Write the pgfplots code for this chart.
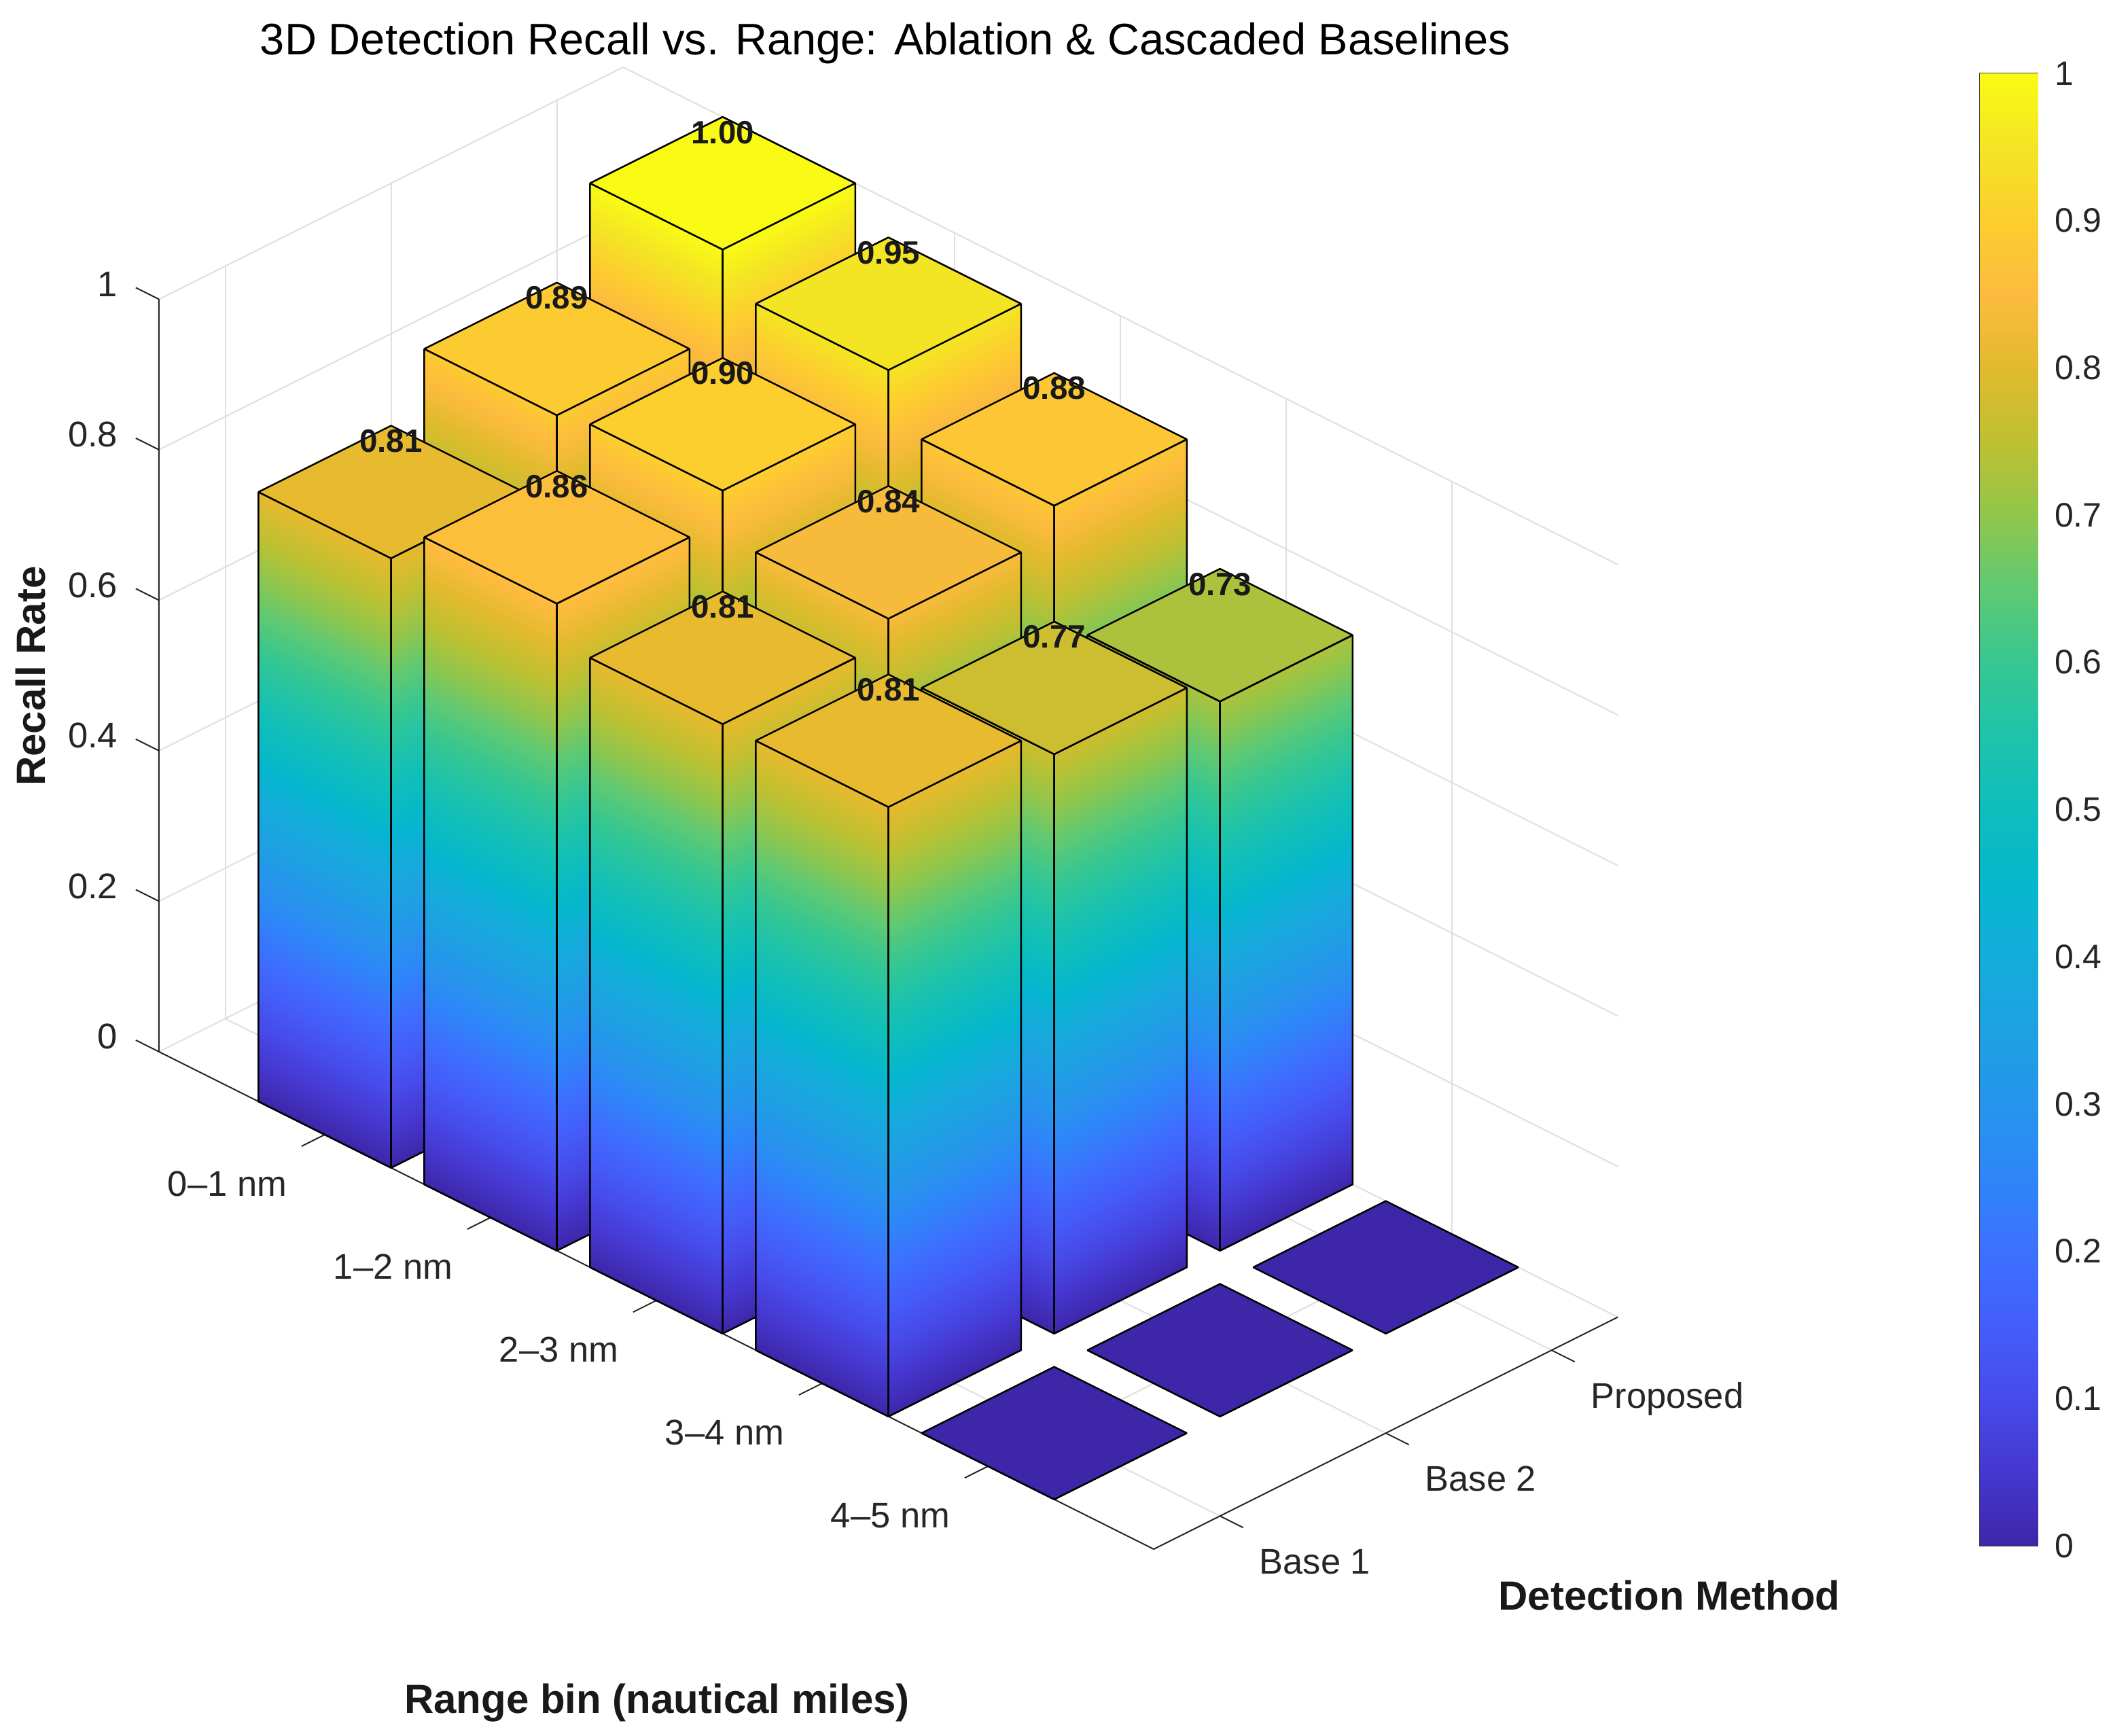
\documentclass[border=0pt]{standalone}
\usepackage{fontspec}
\setmainfont{Liberation Sans}
\usepackage{pgfplots}
\usepackage{pgfplotstable}
\pgfplotsset{compat=1.18}
\usepgfplotslibrary{patchplots}

\pgfplotsset{
  colormap={parula}{
    rgb255=(62,38,168)
    rgb255=(69,55,207)
    rgb255=(71,75,234)
    rgb255=(68,94,249)
    rgb255=(60,113,254)
    rgb255=(46,134,248)
    rgb255=(38,149,236)
    rgb255=(30,161,226)
    rgb255=(20,172,218)
    rgb255=(5,183,205)
    rgb255=(14,190,188)
    rgb255=(30,195,170)
    rgb255=(55,199,145)
    rgb255=(95,201,115)
    rgb255=(145,198,75)
    rgb255=(190,192,50)
    rgb255=(225,186,45)
    rgb255=(253,187,62)
    rgb255=(252,206,46)
    rgb255=(244,229,36)
    rgb255=(249,251,20)
  },
  barface/.style={patch, patch type=rectangle, shader=faceted interp,
    faceted color=black, point meta=z, line width=0.5pt},
}
\tikzset{tickline/.style={line width=0.4pt, black!85}}

% x = range bin (1..5), y = method (0.4 Base 1, 1.4 Base 2, 2.4 Proposed), v = recall
% rows ordered back to front for drawing
\pgfplotstableread{
x y v
1 2.4 1.00
1 1.4 0.89
1 0.4 0.81
2 2.4 0.95
2 1.4 0.90
2 0.4 0.86
3 2.4 0.88
3 1.4 0.84
3 0.4 0.81
4 2.4 0.73
4 1.4 0.77
4 0.4 0.81
5 2.4 0
5 1.4 0
5 0.4 0
}\bardata

\newcommand\drawbar[3]{%
  \pgfmathsetmacro\xa{#1-0.4}\pgfmathsetmacro\xb{#1+0.4}%
  \pgfmathsetmacro\ya{#2-0.4}\pgfmathsetmacro\yb{#2+0.4}%
  \ifdim #3pt>0pt
    \edef\temp{\noexpand\addplot3[barface] coordinates {(\xa,\ya,0) (\xb,\ya,0) (\xb,\ya,#3) (\xa,\ya,#3)};
      \noexpand\addplot3[barface] coordinates {(\xb,\ya,0) (\xb,\yb,0) (\xb,\yb,#3) (\xb,\ya,#3)};}%
    \temp
  \fi
  \edef\temp{\noexpand\addplot3[barface] coordinates {(\xa,\ya,#3) (\xb,\ya,#3) (\xb,\yb,#3) (\xa,\yb,#3)};}%
  \temp
}

\begin{document}
\begin{tikzpicture}
\useasboundingbox (0,0) rectangle (622pt,511pt);
\begin{axis}[
  at={(46.8pt,201.4pt)}, anchor=origin,
  x={(48.8pt,-24.4pt)}, y={(48.8pt,24.4pt)}, z={(0pt,221.5pt)},
  xmin=0, xmax=6, ymin=0, ymax=2.8, zmin=0, zmax=1,
  xtick={1,2,3,4,5},
  xticklabels={0--1 nm, 1--2 nm, 2--3 nm, 3--4 nm, 4--5 nm},
  ytick={0.4,1.4,2.4},
  yticklabels={Base 1, Base 2, Proposed},
  ztick={0,0.2,0.4,0.6,0.8,1},
  zticklabels={0,0.2,0.4,0.6,0.8,1},
  grid=major,
  grid style={line width=0.4pt, gray!25},
  axis line style={draw=none},
  major tick length=0pt,
  tick style={draw=none},
  tick label style={font=\fontsize{10.5}{12}\selectfont, text=black!85, inner sep=0pt},
  xticklabel style={anchor=base east, xshift=-11pt, yshift=-18.2pt},
  yticklabel style={anchor=base west, xshift=11.4pt, yshift=-17pt},
  zticklabel style={anchor=base east, xshift=-12pt, yshift=0.8pt},
  point meta min=0, point meta max=1,
  colormap name=parula,
  clip=false,
]
\draw[black!85, line width=0.4pt] (axis cs:0,0,1) -- (axis cs:0,0,0) -- (axis cs:6,0,0) -- (axis cs:6,2.8,0);
\pgfplotsinvokeforeach{1,2,3,4,5}{\draw[tickline] (axis cs:#1,0,0) -- (axis cs:#1,-0.14,0);}
\pgfplotsinvokeforeach{0.4,1.4,2.4}{\draw[tickline] (axis cs:6,#1,0) -- (axis cs:6.14,#1,0);}
\pgfplotsinvokeforeach{0,0.2,0.4,0.6,0.8,1}{\draw[tickline] (axis cs:0,0,#1) -- (axis cs:-0.14,0,#1);}
\pgfplotstablegetrowsof{\bardata}
\pgfmathtruncatemacro\nrows{\pgfplotsretval-1}
\pgfplotsforeachungrouped \i in {0,...,\nrows}{%
  \pgfplotstablegetelem{\i}{x}\of\bardata \let\bx\pgfplotsretval
  \pgfplotstablegetelem{\i}{y}\of\bardata \let\by\pgfplotsretval
  \pgfplotstablegetelem{\i}{v}\of\bardata \let\bv\pgfplotsretval
  \drawbar{\bx}{\by}{\bv}%
}
\addplot3[draw=none, mark=none, point meta=\thisrow{v},
  restrict z to domain=0.01:2,
  nodes near coords={\pgfmathprintnumber[fixed,fixed zerofill,precision=2,assume math mode=true]{\pgfplotspointmeta}},
  nodes near coords style={font=\bfseries\fontsize{9.5}{10}\selectfont, anchor=center, yshift=15pt, text=black!90, inner sep=0pt}]
  table[x=x, y=y, z=v] {\bardata};
\end{axis}

\begin{axis}[
  at={(582.8pt,56pt)}, anchor=south west,
  scale only axis, width=17pt, height=433.4pt,
  xmin=0, xmax=1, ymin=0, ymax=1,
  xtick=\empty,
  ytick={0,0.1,0.2,0.3,0.4,0.5,0.6,0.7,0.8,0.9,1},
  yticklabels={0,0.1,0.2,0.3,0.4,0.5,0.6,0.7,0.8,0.9,1},
  ytick pos=right, yticklabel pos=right,
  tick align=inside, major tick length=4pt,
  tick style={line width=0.4pt, black!85},
  axis line style={line width=0.5pt, black!75},
  tick label style={font=\fontsize{10}{12}\selectfont, text=black!85},
  yticklabel style={xshift=1.5pt},
  colormap name=parula,
  point meta min=0, point meta max=1,
]
\addplot[patch, patch type=rectangle, shader=interp, point meta=y] coordinates {(0,0) (1,0) (1,1) (0,1)};
\end{axis}

\node[anchor=base, font=\fontsize{13}{15}\selectfont] at (260.6pt,494.9pt) {3D Detection Recall vs. Range: Ablation \& Cascaded Baselines};
\node[anchor=base, font=\bfseries\fontsize{12}{14}\selectfont, text=black!90] at (193.4pt,6.6pt) {Range bin (nautical miles)};
\node[anchor=base, font=\bfseries\fontsize{12}{14}\selectfont, text=black!90] at (491.4pt,37pt) {Detection Method};
\node[anchor=base, rotate=90, font=\bfseries\fontsize{12}{14}\selectfont, text=black!90] at (13.4pt,312pt) {Recall Rate};
\end{tikzpicture}
\end{document}
